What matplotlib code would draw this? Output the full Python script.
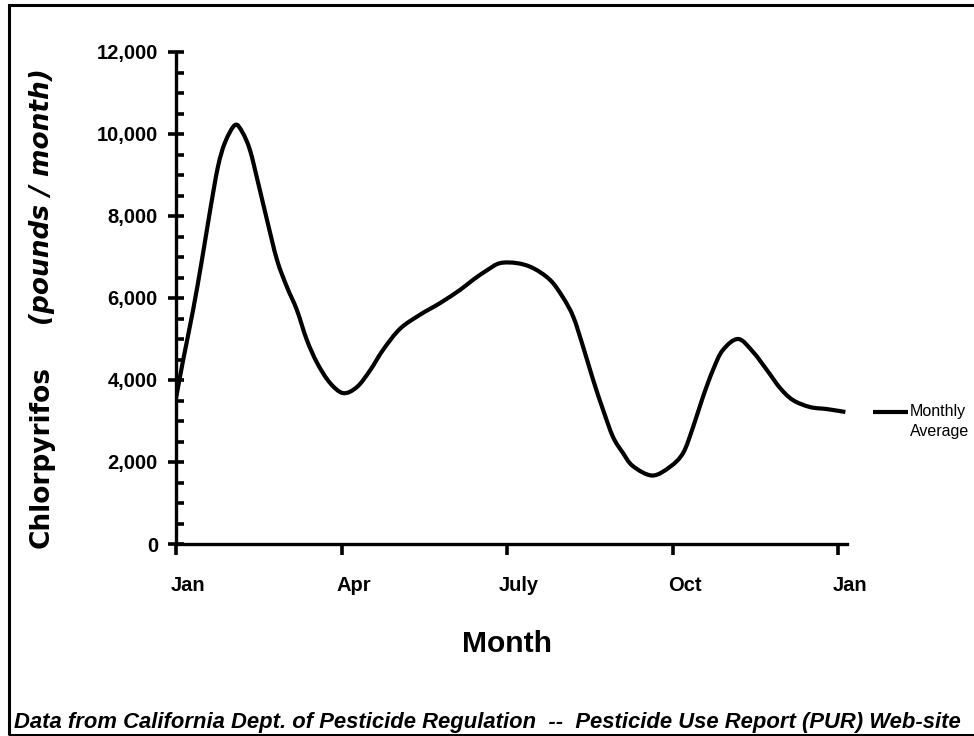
import matplotlib
matplotlib.use("Agg")
import numpy as np
import matplotlib.pyplot as plt
from matplotlib import font_manager
from matplotlib.ticker import MultipleLocator
from matplotlib.transforms import ScaledTranslation
from matplotlib.patches import Rectangle, PathPatch
from matplotlib.path import Path
from matplotlib.lines import Line2D

# ---------------- data ----------------
months = [0.00, 0.13, 0.31, 0.47, 0.62, 0.76, 0.89, 1.07, 1.20, 1.34, 1.49,
          1.65, 1.83, 2.01, 2.19, 2.37, 2.56, 2.79, 3.03, 3.28, 3.52, 3.75,
          4.06, 4.42, 4.79, 5.15, 5.38, 5.64, 5.87, 6.18, 6.47, 6.78, 7.01,
          7.20, 7.38, 7.56, 7.74, 7.92, 8.10, 8.28, 8.63, 8.95, 9.19, 9.37,
          9.55, 9.73, 9.91, 10.19, 10.46, 10.71, 10.95, 11.18, 11.49, 11.80,
          12.13]
pounds = [3550, 4490, 5710, 6930, 8150, 9200, 9800, 10220, 10050, 9610, 8800,
          7900, 6930, 6270, 5710, 4980, 4410, 3930, 3680, 3830, 4240, 4730,
          5250, 5590, 5880, 6200, 6440, 6680, 6850, 6850, 6730, 6440, 6020,
          5540, 4800, 4000, 3270, 2610, 2220, 1900, 1670, 1880, 2220, 2850,
          3590, 4240, 4730, 5000, 4680, 4240, 3800, 3510, 3340, 3290, 3220]

x_ticks = [0, 3, 6, 9, 12]
x_tick_labels = ["Jan", "Apr", "July", "Oct", "Jan"]
y_ticks = [0, 2000, 4000, 6000, 8000, 10000, 12000]
y_tick_labels = ["0", "2,000", "4,000", "6,000", "8,000", "10,000", "12,000"]

series_label = "Monthly\nAverage"
x_title = "Month"
y_title_1 = "Chlorpyrifos"
y_title_2 = "(pounds / month)"
source = ("Data from California Dept. of Pesticide Regulation  --  "
          "Pesticide Use Report (PUR) Web-site")

# ---------------- fonts ----------------
names = {f.name for f in font_manager.fontManager.ttflist}
HAS_NARROW = "Liberation Sans Narrow" in names
ARIAL = "Liberation Sans"
NARROW = "Liberation Sans Narrow" if HAS_NARROW else ARIAL
ytick_size = 16.5 if HAS_NARROW else 14.5
xtick_size = 16.5 if HAS_NARROW else 14.5
leg_size = 13 if HAS_NARROW else 11.5

W, H = 974, 736
fig = plt.figure(figsize=(W / 100, H / 100), dpi=100)
fig.patch.set_facecolor("white")

x0, x1, y0, y1 = 176, 847, 544, 52
ax = fig.add_axes([x0 / W, 1 - y0 / H, (x1 - x0) / W, (y0 - y1) / H])
ax.set_facecolor("white")

# smoothed line (Excel-style smoothing: Catmull-Rom drawn as Bezier curves)
P = np.column_stack([months, pounds]).astype(float)
n = len(P)
verts = [P[0]]
codes = [Path.MOVETO]
for i in range(n - 1):
    p0 = P[i - 1] if i > 0 else P[i]
    p1 = P[i]
    p2 = P[i + 1]
    p3 = P[i + 2] if i + 2 < n else P[i + 1]
    verts += [p1 + (p2 - p0) / 6.0, p2 - (p3 - p1) / 6.0, p2]
    codes += [Path.CURVE4] * 3
curve = PathPatch(Path(verts, codes), facecolor="none", edgecolor="black",
                  lw=3.0, joinstyle="round", capstyle="butt",
                  transform=ax.transData, label=series_label)
ax.add_patch(curve)

ax.set_xlim(0, 12.16)
ax.set_ylim(0, 12000)
for s in ("top", "right"):
    ax.spines[s].set_visible(False)
for s in ("left", "bottom"):
    ax.spines[s].set_linewidth(2.4)
    ax.spines[s].set_color("black")

ax.set_xticks(x_ticks)
ax.set_xticklabels(x_tick_labels, fontfamily=NARROW, fontweight="bold",
                   fontsize=xtick_size)
ax.set_yticks(y_ticks)
ax.set_yticklabels(y_tick_labels, fontfamily=NARROW, fontweight="bold",
                   fontsize=ytick_size)
ax.yaxis.set_minor_locator(MultipleLocator(500))
ax.tick_params(axis="y", which="major", direction="inout", length=12,
               width=2.6, pad=7, colors="black")
ax.tick_params(axis="y", which="minor", direction="in", length=6,
               width=2.6, colors="black")
ax.tick_params(axis="x", which="major", direction="out", length=8,
               width=2.6, pad=15, colors="black")
ax.tick_params(axis="x", which="minor", length=0)

off = ScaledTranslation(12 / 100, 0, fig.dpi_scale_trans)
for lbl in ax.get_xticklabels():
    lbl.set_transform(lbl.get_transform() + off)

# legend (line sample level with the first text line)
fig.add_artist(Line2D([873 / W, 908 / W], [1 - 412 / H, 1 - 412 / H],
                      color="black", lw=3.0, solid_capstyle="butt",
                      transform=fig.transFigure))
fig.text(910 / W, 1 - 404 / H, series_label, ha="left", va="top",
         fontfamily=NARROW, fontsize=leg_size, linespacing=1.45)

# axis titles
fig.text(507 / W, 1 - 652 / H, x_title, ha="center", va="baseline",
         fontfamily=ARIAL, fontweight="bold", fontsize=21.6)
fig.text(49 / W, 1 - 548 / H, y_title_1, rotation=90, rotation_mode="anchor",
         ha="left", va="baseline", fontfamily="DejaVu Sans",
         fontweight="bold", fontsize=19)
fig.text(49 / W, 1 - 68 / H, y_title_2, rotation=90, rotation_mode="anchor",
         ha="right", va="baseline", fontfamily="DejaVu Sans",
         fontweight="bold", fontstyle="italic", fontsize=19)

# source line
src = fig.text(14 / W, 1 - 728 / H, source, ha="left", va="baseline",
               fontfamily=ARIAL, fontweight="bold", fontstyle="italic",
               fontsize=13)
fig.canvas.draw()
w = src.get_window_extent().width
src.set_fontsize(13 * (958 - 14) / w)

# figure border (open on the right, as in the reference)
fig.add_artist(Rectangle((8.7 / W, 0.6 / H), 1.2, 1 - 5.3 / H,
                         transform=fig.transFigure, fill=False,
                         edgecolor="black", linewidth=2.2, clip_on=False))

fig.savefig("out.png", dpi=100, facecolor="white")
